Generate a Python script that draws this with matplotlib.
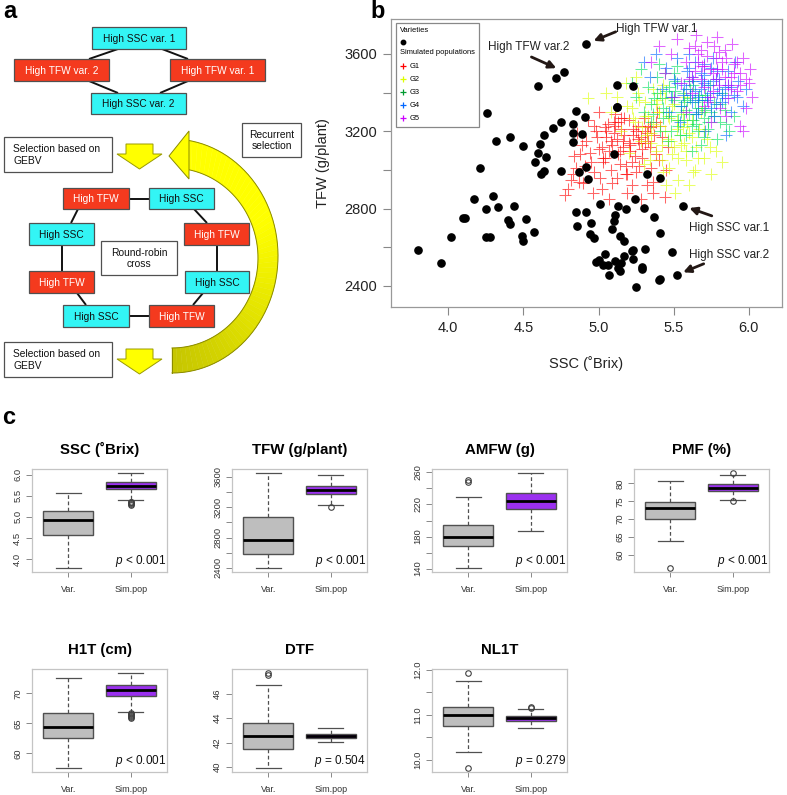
import numpy as np
import matplotlib
matplotlib.use('Agg')
import matplotlib.pyplot as plt
from matplotlib.patches import Rectangle, Polygon
from matplotlib.colors import to_rgb

plt.rcParams['font.family'] = ['Liberation Sans', 'DejaVu Sans']
plt.rcParams['mathtext.fontset'] = 'custom'
plt.rcParams['mathtext.it'] = 'Liberation Sans:italic'
plt.rcParams['mathtext.rm'] = 'Liberation Sans'

# ---- panel b data: varieties (SSC, TFW) ----
var_ssc = [4.92, 4.77, 4.72, 4.60, 5.12, 5.23, 4.26, 5.12, 5.12, 4.85,
           4.91, 4.75, 4.70, 4.83, 4.83, 4.89, 4.64, 4.41, 4.32, 4.50,
           4.61, 4.83, 4.60, 4.65, 4.58, 5.10, 4.21, 4.92, 4.75, 4.87,
           4.64, 4.62, 4.93, 5.32, 5.41, 4.17, 4.30, 4.25, 4.33, 4.44,
           4.11, 4.10, 4.40, 4.41, 4.52, 4.02, 4.25, 4.28, 4.49, 4.50,
           4.57, 3.80, 3.95, 5.01, 4.85, 4.92, 5.13, 5.11, 5.18, 5.24,
           5.30, 5.37, 5.56, 5.10, 4.95, 4.86, 5.09, 4.94, 4.97, 5.14,
           5.17, 5.41, 5.22, 5.23, 5.31, 5.17, 5.04, 4.98, 5.00, 5.11,
           5.15, 5.23, 5.03, 5.06, 5.29, 5.29, 5.13, 5.14, 5.07, 5.49,
           5.52, 5.40, 5.41, 5.25]
var_tfw = [3653, 3509, 3474, 3434, 3440, 3434, 3297, 3328, 3324, 3305,
           3276, 3250, 3216, 3238, 3193, 3186, 3181, 3169, 3150, 3126,
           3134, 3147, 3090, 3066, 3040, 3081, 3012, 3014, 2995, 2991,
           2993, 2978, 2953, 2979, 2957, 2848, 2867, 2797, 2810, 2814,
           2753, 2750, 2741, 2721, 2745, 2652, 2655, 2652, 2660, 2634,
           2678, 2586, 2517, 2824, 2781, 2784, 2815, 2767, 2798, 2850,
           2802, 2759, 2815, 2738, 2724, 2709, 2693, 2667, 2647, 2660,
           2633, 2672, 2581, 2586, 2590, 2553, 2564, 2526, 2534, 2529,
           2521, 2538, 2510, 2510, 2500, 2490, 2495, 2479, 2457, 2574,
           2457, 2431, 2438, 2393]

# ---- simulated populations (SSC, TFW) per generation ----
g1_ssc = [4.78, 4.82, 4.85, 4.88, 4.90, 4.92, 4.95, 4.97, 4.98, 5.00, 5.02, 5.03,
          5.05, 5.06, 5.08, 5.09, 5.10, 5.12, 5.13, 5.15, 5.16, 5.18, 5.19, 5.20,
          5.21, 5.23, 5.25, 5.26, 5.27, 5.29, 5.30, 5.31, 5.33, 5.34, 5.36, 5.37,
          5.38, 5.40, 5.42, 5.44, 5.46, 4.86, 4.93, 5.00, 5.07, 5.11, 4.96, 5.22,
          5.28, 5.14, 4.89, 5.04, 5.17, 5.24, 5.35, 5.01, 5.32, 4.84, 5.39, 5.12,
          5.02, 5.05, 5.08, 5.11, 5.14, 5.17, 5.20, 5.23, 5.26, 5.29, 5.32, 5.04,
          5.10, 5.16, 5.22, 5.28, 5.34, 4.99, 5.07, 5.13, 5.19, 5.25, 5.31, 4.94,
          4.91, 4.87, 4.83, 4.80, 5.41, 5.45, 5.38, 5.36, 5.09, 5.18, 5.27, 5.03,
          5.15, 5.21, 4.97, 5.33]
g1_tfw = [2870, 2950, 3010, 3080, 2930, 3150, 3040, 2990, 3200, 3110, 2900, 3060,
          3170, 3240, 3000, 3130, 3190, 2960, 3080, 3210, 3150, 3020, 2880, 3260,
          3100, 3180, 2990, 3230, 3140, 3060, 3270, 3200, 3230, 3120, 2940, 3180,
          3250, 3050, 3170, 2860, 3120, 3190, 3260, 3300, 2850, 3290, 2880, 2920,
          2850, 3030, 3130, 3220, 3270, 3070, 3010, 2960, 2920, 3070, 3300, 3160,
          3120, 3200, 3150, 3230, 3100, 3180, 3140, 3210, 3160, 3110, 3190, 3060,
          3250, 3120, 3040, 3170, 3220, 3170, 3100, 3250, 2980, 3200, 3140, 3090,
          3020, 2940, 2980, 2900, 3230, 3000, 3080, 2880, 2930, 2980, 3020, 3040,
          3270, 3130, 3230, 3150]
g2_ssc = [5.08, 5.12, 5.15, 5.18, 5.20, 5.22, 5.24, 5.26, 5.28, 5.30, 5.31, 5.33,
          5.35, 5.36, 5.38, 5.40, 5.41, 5.43, 5.44, 5.46, 5.47, 5.49, 5.50, 5.52,
          5.53, 5.55, 5.56, 5.58, 5.60, 5.62, 5.63, 5.65, 5.67, 5.70, 5.72, 5.75,
          5.78, 5.51, 5.45, 4.93, 5.05, 5.25, 5.34, 5.57, 5.42, 5.29, 5.60, 5.68,
          5.82, 5.39,
          5.32, 5.36, 5.40, 5.44, 5.48, 5.52, 5.56, 5.38, 5.42, 5.46, 5.50, 5.54,
          5.58, 5.62, 5.27, 5.23, 5.19, 5.66, 5.70, 5.74, 5.47, 5.43, 5.35, 5.31,
          5.59, 5.64, 5.53, 5.41, 5.49, 5.57]
g2_tfw = [3300, 3380, 3200, 3450, 3090, 3320, 3250, 3400, 3150, 3030, 3350, 3280,
          3190, 3420, 3100, 3300, 3230, 2990, 3370, 3160, 3270, 3080, 3340, 3210,
          2950, 3130, 3290, 3050, 3190, 3260, 2990, 3120, 3210, 3060, 3160, 2980,
          3100, 2880, 2920, 3370, 3400, 3480, 3050, 3380, 3130, 3220, 2920, 3300,
          3040, 3360,
          3180, 3240, 3300, 3200, 3150, 3260, 3220, 3340, 3050, 3280, 3120, 3180,
          3100, 3170, 3360, 3270, 3330, 3060, 3200, 3120, 3010, 3440, 3140, 3280,
          3240, 3000, 3060, 3400, 3330, 3140]
g3_ssc = [5.22, 5.25, 5.28, 5.30, 5.33, 5.35, 5.37, 5.39, 5.41, 5.43, 5.45, 5.46,
          5.48, 5.50, 5.51, 5.53, 5.55, 5.56, 5.58, 5.60, 5.61, 5.63, 5.65, 5.66,
          5.68, 5.70, 5.71, 5.73, 5.75, 5.77, 5.79, 5.81, 5.84, 5.87, 5.90, 5.52,
          5.44, 5.62, 5.74, 5.57, 5.35, 5.48, 5.69, 5.82, 5.40,
          5.45, 5.49, 5.53, 5.57, 5.61, 5.65, 5.69, 5.73, 5.51, 5.55, 5.59, 5.63,
          5.67, 5.71, 5.47, 5.43, 5.39, 5.77, 5.81, 5.85, 5.54, 5.60, 5.66, 5.42,
          5.36, 5.58, 5.64, 5.70, 5.50, 5.62]
g3_tfw = [3450, 3380, 3520, 3300, 3430, 3250, 3370, 3480, 3200, 3320, 3410, 3150,
          3280, 3360, 3460, 3230, 3330, 3400, 3180, 3290, 3370, 3440, 3240, 3320,
          3130, 3270, 3390, 3210, 3300, 3350, 3160, 3250, 3310, 3200, 3280, 3540,
          3500, 3100, 3440, 3260, 3340, 3200, 3360, 3400, 3550,
          3300, 3380, 3260, 3350, 3420, 3290, 3320, 3250, 3410, 3300, 3360, 3260,
          3390, 3310, 3430, 3270, 3400, 3280, 3340, 3240, 3180, 3460, 3200, 3370,
          3290, 3310, 3350, 3170, 3500, 3230]
g4_ssc = [5.30, 5.34, 5.38, 5.42, 5.45, 5.48, 5.50, 5.52, 5.55, 5.57, 5.59, 5.61,
          5.63, 5.64, 5.66, 5.68, 5.70, 5.72, 5.73, 5.75, 5.77, 5.79, 5.80, 5.82,
          5.84, 5.86, 5.88, 5.90, 5.93, 5.96, 5.71, 5.85, 5.60, 5.76, 5.54, 5.66,
          5.78, 5.91, 5.47, 5.98,
          5.58, 5.62, 5.66, 5.70, 5.74, 5.78, 5.82, 5.86, 5.60, 5.64, 5.68, 5.72,
          5.76, 5.80, 5.84, 5.56, 5.52, 5.88, 5.92, 5.70, 5.75, 5.65, 5.79, 5.62,
          5.69]
g4_tfw = [3560, 3480, 3600, 3420, 3530, 3380, 3470, 3580, 3330, 3440, 3510, 3390,
          3460, 3560, 3300, 3420, 3490, 3360, 3440, 3530, 3280, 3400, 3470, 3350,
          3430, 3510, 3300, 3390, 3460, 3330, 3200, 3180, 3600, 3580, 3250, 3380,
          3340, 3560, 3300, 3420,
          3420, 3480, 3360, 3450, 3400, 3470, 3390, 3440, 3530, 3410, 3500, 3380,
          3460, 3420, 3370, 3390, 3450, 3430, 3380, 3550, 3320, 3290, 3510, 3350,
          3460]
g5_ssc = [5.35, 5.40, 5.44, 5.48, 5.52, 5.55, 5.58, 5.60, 5.62, 5.64, 5.66, 5.68,
          5.70, 5.72, 5.74, 5.76, 5.78, 5.80, 5.82, 5.84, 5.86, 5.88, 5.90, 5.92,
          5.94, 5.96, 5.98, 6.00, 6.02, 5.85, 5.75, 5.94, 5.65, 5.79, 5.50, 5.70,
          5.89, 5.58, 6.01, 5.96,
          5.62, 5.66, 5.70, 5.74, 5.78, 5.82, 5.86, 5.90, 5.68, 5.72, 5.76, 5.80,
          5.84, 5.88, 5.92, 5.64, 5.60, 5.94, 5.98, 5.73, 5.77, 5.81, 5.69, 5.85,
          5.79]
g5_tfw = [3560, 3640, 3500, 3600, 3680, 3450, 3560, 3630, 3400, 3510, 3600, 3470,
          3540, 3660, 3380, 3500, 3580, 3440, 3520, 3620, 3370, 3480, 3550, 3410,
          3500, 3580, 3320, 3450, 3380, 3280, 3250, 3230, 3700, 3690, 3380, 3330,
          3650, 3300, 3520, 3200,
          3480, 3560, 3430, 3520, 3470, 3560, 3440, 3500, 3620, 3590, 3410, 3610,
          3480, 3420, 3560, 3640, 3470, 3440, 3470, 3350, 3640, 3320, 3540, 3580,
          3520]

gen_names = ['G1', 'G2', 'G3', 'G4', 'G5']
gen_colors = ['#FF0000', '#DDFF00', '#00E060', '#0066FF', '#CC00FF']

# varieties pointed at by arrows: index, label
highlight_idx = [0, 1, 62, 90]
highlight_lbl = ['High TFW var.1', 'High TFW var.2', 'High SSC var.1', 'High SSC var.2']

# ---- panel c data: box statistics (whislo, q1, med, q3, whishi) ----
traits = ['SSC (˚Brix)', 'TFW (g/plant)', 'AMFW (g)', 'PMF (%)',
          'H1T (cm)', 'DTF', 'NL1T']
var_stats = [(3.79, 4.58, 4.92, 5.15, 5.56),
             (2396, 2584, 2774, 3068, 3653),
             (140.4, 168, 179, 194.6, 229.5),
             (63.7, 70.0, 73.1, 74.9, 80.7),
             (57.55, 62.5, 64.45, 66.8, 72.55),
             (39.9, 41.43, 42.53, 43.58, 46.73),
             (10.17, 10.76, 11.0, 11.18, 11.74)]
var_fliers = [[], [], [250, 248], [56.2], [], [47.7, 47.5], [11.93, 9.82]]
sim_stats = [(5.39, 5.65, 5.73, 5.82, 6.04),
             (3227, 3372, 3425, 3473, 3618),
             (187.2, 214, 224.8, 234.8, 259.6),
             (75.4, 78.0, 78.8, 79.8, 82.35),
             (66.95, 69.6, 70.6, 71.4, 73.4),
             (42.05, 42.4, 42.56, 42.72, 43.15),
             (10.71, 10.87, 10.93, 10.97, 11.13)]
sim_fliers = [[5.36, 5.34, 5.32, 5.30, 5.29],
              [3200],
              [],
              [83.0, 75.05],
              [66.8, 66.6, 66.4, 66.2, 66.0, 65.9],
              [],
              [11.17, 11.15]]
p_texts = ['< 0.001', '< 0.001', '< 0.001', '< 0.001', '< 0.001', '= 0.504', '= 0.279']
y_ticks = [[4.0, 4.5, 5.0, 5.5, 6.0],
           list(range(2400, 3601, 200)),
           list(range(140, 261, 20)),
           [60, 65, 70, 75, 80],
           [60, 65, 70],
           [40, 42, 44, 46],
           [10.0, 10.5, 11.0, 11.5, 12.0]]
y_labels = [['4.0', '4.5', '5.0', '5.5', '6.0'],
            ['2400', '', '2800', '', '3200', '', '3600'],
            ['140', '', '180', '', '220', '', '260'],
            ['60', '65', '70', '75', '80'],
            ['60', '65', '70'],
            ['40', '42', '44', '46'],
            ['10.0', '', '11.0', '', '12.0']]
group_names = ['Var.', 'Sim.pop']

# ---- figure in pixel units ----
W, H = 787, 795
fig = plt.figure(figsize=(W / 100, H / 100), dpi=100)


def px_axes(left, top, width, height, **kw):
    return fig.add_axes([left / W, 1 - (top + height) / H, width / W, height / H], **kw)


# ================= panel b =================
ax = px_axes(391, 19, 391, 288)
gen_x = [g1_ssc, g2_ssc, g3_ssc, g4_ssc, g5_ssc]
gen_y = [g1_tfw, g2_tfw, g3_tfw, g4_tfw, g5_tfw]
for i in range(5):
    ax.plot(gen_x[i], gen_y[i], '+', ms=8.5, mew=0.75, color=gen_colors[i],
            alpha=0.6, zorder=2)
ax.plot(var_ssc, var_tfw, 'o', ms=5.2, color='black', mec='black', zorder=3)

ax.set_xlim(3.62, 6.22)
ax.set_ylim(2291, 3781)
ax.set_xticks([4.0, 4.5, 5.0, 5.5, 6.0])
ax.set_xticklabels(['4.0', '4.5', '5.0', '5.5', '6.0'])
ax.set_yticks(range(2400, 3601, 200))
ax.set_yticklabels(['2400', '', '2800', '', '3200', '', '3600'])
ax.tick_params(labelsize=10.5, length=6, width=0.8, color='#888888',
               labelcolor='#222222', pad=4)
for s in ax.spines.values():
    s.set_color('#999999')
    s.set_linewidth(0.9)
ax.set_xlabel('SSC (˚Brix)', fontsize=10.5, color='#222222', labelpad=15)
ax.set_ylabel('TFW (g/plant)', fontsize=10.5, color='#222222', labelpad=10)

arrow_kw = dict(arrowstyle='-|>', color='#231815', lw=2.0, mutation_scale=11,
                shrinkA=0)
# tail offset, shrink, text offset (points)
arrow_tail = [(21, 8.6), (-23.4, 10.5), (20.9, -7.3), (19.4, 8.0)]
arrow_shrink = [5.5, 6.0, 5.0, 5.0]
text_off = [(21.6, 10.8), (-55, 17.7), (4.3, -15.8), (8.6, 14.5)]
for k, idx in enumerate(highlight_idx):
    pt = (var_ssc[idx], var_tfw[idx])
    ax.annotate('', xy=pt, xytext=arrow_tail[k], textcoords='offset points',
                arrowprops=dict(arrow_kw, shrinkB=arrow_shrink[k]))
    ax.annotate(highlight_lbl[k], xy=pt, xytext=text_off[k],
                textcoords='offset points', ha='left', va='center',
                fontsize=8.5, color='#222222')

# ================= panel c =================
col_left = [32, 232, 432, 634]
row_top = [469, 669]
for i, name in enumerate(traits):
    r, c = divmod(i, 4)
    bx = px_axes(col_left[c], row_top[r], 135, 103)
    stats = []
    for st, fl in ((var_stats[i], var_fliers[i]), (sim_stats[i], sim_fliers[i])):
        lo, q1, med, q3, hi = st
        stats.append(dict(whislo=lo, q1=q1, med=med, q3=q3, whishi=hi, fliers=fl))
    parts = bx.bxp(stats, positions=[1, 2], widths=0.8, patch_artist=True,
                   boxprops=dict(edgecolor='#505050', linewidth=1.0),
                   medianprops=dict(color='black', linewidth=2.0),
                   whiskerprops=dict(color='#505050', linewidth=0.9, linestyle=(0, (3, 2))),
                   capprops=dict(color='#505050', linewidth=0.9),
                   flierprops=dict(marker='o', mfc='none', mec='#404040', ms=4, mew=0.8),
                   capwidths=0.4)
    parts['boxes'][0].set_facecolor('#BEBEBE')
    parts['boxes'][1].set_facecolor('#9B30F0')
    allv = list(var_stats[i]) + list(sim_stats[i]) + var_fliers[i] + sim_fliers[i]
    lo, hi = min(allv), max(allv)
    pad = 0.04 * (hi - lo)
    bx.set_ylim(lo - pad, hi + pad)
    bx.set_xlim(0.42, 2.58)
    bx.set_xticks([1, 2])
    bx.set_xticklabels(group_names)
    bx.set_yticks(y_ticks[i])
    bx.set_yticklabels(y_labels[i], rotation=90, va='center')
    bx.tick_params(axis='y', labelsize=6.8, length=4, width=0.7, color='#888888',
                   labelcolor='#333333', pad=3)
    bx.tick_params(axis='x', labelsize=6.5, length=3.5, width=0.7, color='#888888',
                   labelcolor='#333333', pad=6)
    for s in bx.spines.values():
        s.set_color('#C4C4C4')
        s.set_linewidth(0.9)
    bx.set_title(name, fontsize=10.8, fontweight='bold', pad=11)
    bx.text(0.99, 0.025, '$p$ ' + p_texts[i], transform=bx.transAxes,
            ha='right', va='bottom', fontsize=8.5, color='#111111')

# ================= overlay: panel a, legend, labels =================
ov = fig.add_axes([0, 0, 1, 1], zorder=10)
ov.set_xlim(0, W)
ov.set_ylim(H, 0)
ov.axis('off')
ov.patch.set_alpha(0)

RED = '#F43A1E'
CYAN = '#33F5F5'


def box(x0, y0, x1, y1, fc, text, tc='#111111', fs=7.3, ha='center'):
    ov.add_patch(Rectangle((x0, y0), x1 - x0, y1 - y0, facecolor=fc,
                           edgecolor='#505050', lw=0.9, zorder=3))
    if ha == 'center':
        ov.text((x0 + x1) / 2, (y0 + y1) / 2 + 0.5, text, ha='center', va='center',
                fontsize=fs, color=tc, zorder=4, linespacing=1.1)
    else:
        ov.text(x0 + 9, (y0 + y1) / 2 + 0.5, text, ha='left', va='center',
                fontsize=fs, color=tc, zorder=4, linespacing=1.15)


def link(p, q):
    ov.plot([p[0], q[0]], [p[1], q[1]], color='#111111', lw=1.4, zorder=2,
            solid_capstyle='butt')


# top crossing of four varieties
link((118, 49), (89, 59))
link((162, 49), (188, 59))
link((89, 81), (118, 93))
link((188, 81), (160, 93))
box(92, 27, 186, 49, CYAN, 'High SSC var. 1')
box(14, 59, 109, 81, RED, 'High TFW var. 2', tc='white')
box(170, 59, 265, 81, RED, 'High TFW var. 1', tc='white')
box(91, 93, 186, 114, CYAN, 'High SSC var. 2')

# selection boxes and arrows
for yb in (137, 342):
    box(4, yb, 112, yb + 35, 'white', 'Selection based on\nGEBV', fs=7.4, ha='left')
    t = yb + 7
    ov.add_patch(Polygon([(126, t), (153, t), (153, t + 10), (162, t + 10),
                          (139.5, t + 25), (117, t + 10), (126, t + 10)],
                         closed=True, facecolor='#FFFF00', edgecolor='#9A9A00',
                         lw=0.7, zorder=3))

# round-robin cross
link((129, 198.5), (149, 198.5))
link((78, 209), (71, 223))
link((194, 209), (207, 223))
link((62, 245), (62, 271))
link((217, 245), (217, 271))
link((77, 293), (86, 305))
link((203, 293), (193, 305))
link((129, 316), (149, 316))
box(63, 188, 129, 209, RED, 'High TFW', tc='white')
box(149, 188, 214, 209, CYAN, 'High SSC')
box(29, 223, 94, 245, CYAN, 'High SSC')
box(184, 223, 249, 245, RED, 'High TFW', tc='white')
box(29, 271, 94, 293, RED, 'High TFW', tc='white')
box(185, 271, 249, 293, CYAN, 'High SSC')
box(63, 305, 129, 327, CYAN, 'High SSC')
box(149, 305, 214, 327, RED, 'High TFW', tc='white')
box(101, 241, 177, 275, 'white', 'Round-robin\ncross', fs=7.4)
box(242, 123, 301, 157, 'white', 'Recurrent\nselection', fs=7.4)

# curved recurrent-selection arrow with a yellow-to-olive shade
n = 60
s = np.linspace(0, 1, n)
t_out = 0.14 + s * (np.pi - 0.14)
t_in = 0.175 + s * (np.pi - 0.175)
ox = 172 + 106 * np.sin(t_out)
oy = 256 - 117 * np.cos(t_out)
ix = 172 + 86 * np.sin(t_in)
iy = 258 - 90 * np.cos(t_in)
c_top = np.array(to_rgb('#FFFF00'))
c_bot = np.array(to_rgb('#C4C400'))
for k in range(n - 1):
    f = max(0.0, (s[k] - 0.35) / 0.65)
    col = c_top * (1 - f) + c_bot * f
    ov.add_patch(Polygon([(ox[k], oy[k]), (ox[k + 1], oy[k + 1]),
                          (ix[k + 1], iy[k + 1]), (ix[k], iy[k])],
                         closed=True, facecolor=col, edgecolor=col, lw=0.3, zorder=1))
ov.plot(ox, oy, color='#8A8A00', lw=0.7, zorder=1.5)
ov.plot(ix, iy, color='#8A8A00', lw=0.7, zorder=1.5)
ov.plot([ox[-1], ix[-1]], [oy[-1], iy[-1]], color='#8A8A00', lw=0.7, zorder=1.5)
ov.add_patch(Polygon([(189, 131), (169, 156), (189, 179)], closed=True,
                     facecolor='#FFFF00', edgecolor='#8A8A00', lw=0.7, zorder=1.6))

# legend of panel b
ov.add_patch(Rectangle((396, 23), 83, 104, facecolor='white', edgecolor='#888888',
                       lw=0.9, zorder=3))
ov.text(400, 31, 'Varieties', fontsize=5.4, va='center', ha='left', zorder=4)
ov.plot([403], [42], 'o', ms=3.2, color='black', zorder=4)
ov.text(400, 53, 'Simulated populations', fontsize=5.4, va='center', ha='left', zorder=4)
for k, (gname, gcol) in enumerate(zip(gen_names, gen_colors)):
    yy = 65.5 + k * 13.2
    ov.plot([403], [yy], '+', ms=5, mew=0.9, color=gcol if k != 2 else '#009A30', zorder=4)
    ov.text(410, yy + 0.5, gname, fontsize=5.4, va='center', ha='left', zorder=4)

# panel letters
ov.text(3, 12, 'a', fontsize=17, fontweight='bold', va='center', ha='left')
ov.text(370, 11, 'b', fontsize=17, fontweight='bold', va='center', ha='left')
ov.text(2, 418, 'c', fontsize=17, fontweight='bold', va='center', ha='left')

fig.savefig('out.png', dpi=100, facecolor='white')
